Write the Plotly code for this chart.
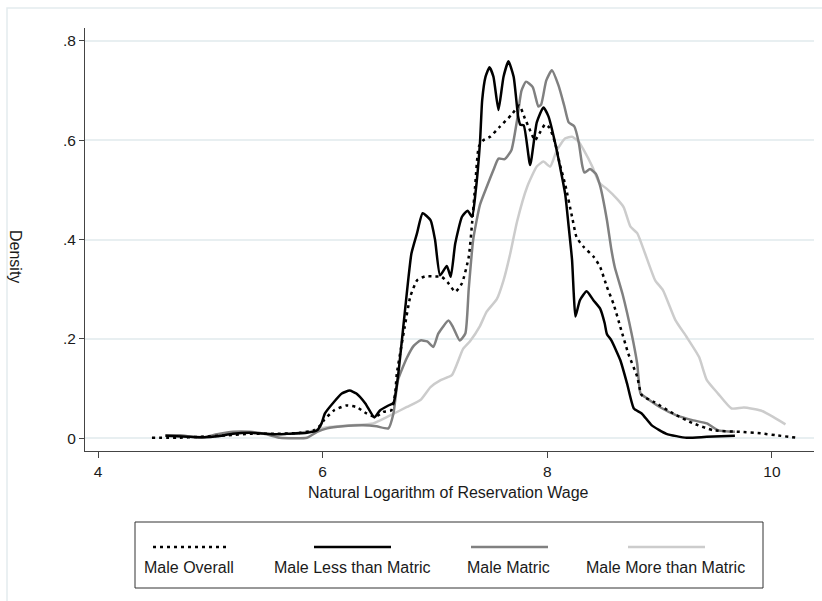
import plotly.graph_objects as go

# Kernel density estimates of log reservation wage, by education group (males)
overall_x = [4.48, 4.70, 4.91, 5.15, 5.35, 5.59, 5.80, 5.92, 5.98, 6.01, 6.10, 6.21, 6.30, 6.39,
             6.47, 6.54, 6.61, 6.645, 6.66, 6.73, 6.78, 6.84, 6.91, 6.985, 7.06, 7.12, 7.18, 7.24,
             7.30, 7.33, 7.357, 7.39, 7.43, 7.49, 7.58, 7.68, 7.75, 7.80, 7.85, 7.89, 7.94, 7.98,
             8.02, 8.07, 8.11, 8.16, 8.22, 8.26, 8.32, 8.41, 8.47, 8.53, 8.59, 8.65, 8.72, 8.80,
             8.84, 8.95, 9.12, 9.30, 9.48, 9.72, 9.90, 10.04, 10.22]
overall_y = [0.001, 0.001, 0.003, 0.006, 0.009, 0.009, 0.011, 0.016, 0.026, 0.036, 0.056, 0.066,
             0.063, 0.050, 0.043, 0.053, 0.056, 0.090, 0.130, 0.224, 0.285, 0.318, 0.326, 0.326,
             0.325, 0.312, 0.295, 0.312, 0.365, 0.433, 0.507, 0.587, 0.600, 0.607, 0.628, 0.651,
             0.670, 0.644, 0.618, 0.600, 0.618, 0.632, 0.625, 0.594, 0.553, 0.510, 0.446, 0.405,
             0.386, 0.366, 0.345, 0.305, 0.270, 0.224, 0.171, 0.124, 0.087, 0.073, 0.050, 0.030,
             0.016, 0.013, 0.010, 0.006, 0.001]

less_x = [4.60, 4.80, 4.95, 5.06, 5.20, 5.35, 5.56, 5.68, 5.86, 5.95, 5.99, 6.02, 6.10, 6.17,
          6.24, 6.30, 6.38, 6.46, 6.51, 6.585, 6.63, 6.67, 6.73, 6.79, 6.84, 6.89, 6.96, 7.00,
          7.045, 7.105, 7.14, 7.18, 7.24, 7.29, 7.33, 7.36, 7.40, 7.42, 7.45, 7.485, 7.52, 7.565,
          7.61, 7.654, 7.70, 7.74, 7.76, 7.79, 7.847, 7.906, 7.965, 8.01, 8.07, 8.13, 8.16, 8.19,
          8.22, 8.235, 8.25, 8.29, 8.35, 8.41, 8.47, 8.51, 8.53, 8.57, 8.65, 8.71, 8.77, 8.84,
          8.93, 9.06, 9.24, 9.42, 9.67]
less_y = [0.005, 0.003, 0.002, 0.004, 0.009, 0.011, 0.008, 0.009, 0.011, 0.016, 0.030, 0.050,
          0.073, 0.090, 0.096, 0.090, 0.070, 0.042, 0.056, 0.066, 0.071, 0.124, 0.251, 0.372,
          0.413, 0.453, 0.439, 0.400, 0.328, 0.347, 0.325, 0.392, 0.446, 0.458, 0.446, 0.493,
          0.594, 0.681, 0.728, 0.747, 0.728, 0.661, 0.728, 0.759, 0.728, 0.648, 0.631, 0.630,
          0.550, 0.636, 0.666, 0.648, 0.594, 0.527, 0.490, 0.426, 0.359, 0.292, 0.245, 0.278,
          0.296, 0.278, 0.261, 0.232, 0.210, 0.197, 0.157, 0.110, 0.060, 0.050, 0.026, 0.009,
          0.001, 0.003, 0.005]

matric_x = [4.60, 4.73, 4.91, 5.06, 5.20, 5.35, 5.50, 5.62, 5.86, 5.95, 6.04, 6.18, 6.36, 6.48,
            6.585, 6.63, 6.67, 6.75, 6.81, 6.87, 6.93, 6.985, 7.03, 7.12, 7.16, 7.22, 7.27, 7.30,
            7.34, 7.40, 7.46, 7.52, 7.565, 7.62, 7.68, 7.73, 7.77, 7.81, 7.87, 7.92, 7.945, 7.99,
            8.04, 8.10, 8.15, 8.19, 8.24, 8.28, 8.31, 8.33, 8.38, 8.43, 8.47, 8.53, 8.57, 8.60,
            8.67, 8.75, 8.80, 8.83, 8.87, 9.00, 9.15, 9.30, 9.42, 9.52, 9.67]
matric_y = [0.006, 0.006, 0.001, 0.008, 0.013, 0.013, 0.008, 0.001, 0.001, 0.013, 0.020, 0.024,
            0.026, 0.024, 0.020, 0.050, 0.117, 0.162, 0.186, 0.197, 0.195, 0.184, 0.211, 0.237,
            0.224, 0.197, 0.211, 0.300, 0.400, 0.470, 0.506, 0.540, 0.563, 0.562, 0.580, 0.640,
            0.700, 0.718, 0.707, 0.668, 0.672, 0.720, 0.741, 0.710, 0.670, 0.636, 0.628, 0.595,
            0.550, 0.535, 0.542, 0.533, 0.508, 0.440, 0.380, 0.345, 0.290, 0.211, 0.150, 0.090,
            0.083, 0.063, 0.046, 0.036, 0.030, 0.016, 0.013]

more_x = [5.72, 5.86, 6.04, 6.24, 6.45, 6.60, 6.75, 6.87, 6.96, 7.05, 7.15, 7.25, 7.31, 7.40,
          7.46, 7.55, 7.61, 7.67, 7.73, 7.82, 7.906, 7.965, 8.025, 8.085, 8.16, 8.22, 8.28, 8.32,
          8.40, 8.46, 8.53, 8.62, 8.68, 8.74, 8.80, 8.87, 8.96, 9.03, 9.14, 9.24, 9.35, 9.42,
          9.52, 9.64, 9.75, 9.90, 10.01, 10.12]
more_y = [0.009, 0.013, 0.022, 0.026, 0.030, 0.046, 0.063, 0.077, 0.103, 0.117, 0.127, 0.180,
          0.195, 0.226, 0.255, 0.280, 0.318, 0.372, 0.436, 0.506, 0.547, 0.557, 0.547, 0.580,
          0.604, 0.607, 0.597, 0.582, 0.547, 0.515, 0.502, 0.482, 0.465, 0.426, 0.413, 0.372,
          0.318, 0.298, 0.238, 0.204, 0.164, 0.117, 0.090, 0.060, 0.062, 0.056, 0.043, 0.028]

series_names = ["Male Overall", "Male Less than Matric", "Male Matric", "Male More than Matric"]
x_ticks = [4, 6, 8, 10]
y_ticks = [0, 0.2, 0.4, 0.6, 0.8]
y_tick_labels = ["0", ".2", ".4", ".6", ".8"]

# page geometry (pixels) of the plotting area
W, H = 822, 601
PL, PR, PT, PB = 85, 814, 28, 451
FONT = "Liberation Sans, Arial, sans-serif"
TXT = "#1a1a1a"
TEXT_SIZE = 16
TICK_SIZE = 15.5


def px(x):
    return (x - PL) / (PR - PL)


def py(y):
    return (PB - y) / (PB - PT)


styles = [
    dict(color="#000000", width=2.5, dash="3px,4px"),
    dict(color="#000000", width=2.5),
    dict(color="#808080", width=2.5),
    dict(color="#cccccc", width=2.5),
]
data = [(overall_x, overall_y), (less_x, less_y), (matric_x, matric_y), (more_x, more_y)]

fig = go.Figure()
# draw lightest first so darker curves sit on top
for i in [3, 2, 0, 1]:
    xs, ys = data[i]
    fig.add_trace(go.Scatter(x=xs, y=ys, mode="lines", name=series_names[i],
                             line=dict(shape="spline", smoothing=0.5, **styles[i]),
                             showlegend=False))

shapes = []
annotations = []

# outer graph-region frame
shapes.append(dict(type="rect", xref="paper", yref="paper",
                   x0=px(7), x1=px(840), y0=py(620), y1=py(8),
                   line=dict(color="#e4ebee", width=1.5), layer="below"))

# legend box
shapes.append(dict(type="rect", xref="paper", yref="paper",
                   x0=px(135), x1=px(763), y0=py(588), y1=py(522),
                   line=dict(color="#333333", width=1), fillcolor="rgba(0,0,0,0)"))
key_spans = [(153, 227), (314, 391), (471, 548), (628, 705)]
label_centres = [189, 352, 508, 665]
for i, (a, b) in enumerate(key_spans):
    shapes.append(dict(type="line", xref="paper", yref="paper",
                       x0=px(a), x1=px(b), y0=py(547), y1=py(547),
                       line=styles[i]))
    annotations.append(dict(text=series_names[i], xref="paper", yref="paper",
                            x=px(label_centres[i]), y=py(567), xanchor="center",
                            yanchor="middle", showarrow=False,
                            font=dict(family=FONT, size=TEXT_SIZE, color=TXT)))

# axis titles
annotations.append(dict(text="Natural Logarithm of Reservation Wage", xref="paper", yref="paper",
                        x=px(448), y=py(493), xanchor="center", yanchor="middle",
                        showarrow=False, font=dict(family=FONT, size=TEXT_SIZE, color=TXT)))
annotations.append(dict(text="Density", xref="paper", yref="paper",
                        x=px(16), y=py(256), xanchor="center", yanchor="middle",
                        textangle=90, showarrow=False,
                        font=dict(family=FONT, size=TEXT_SIZE, color=TXT)))

fig.update_layout(
    width=W, height=H,
    margin=dict(l=PL, r=W - PR, t=PT, b=H - PB, pad=0),
    paper_bgcolor="white", plot_bgcolor="white",
    shapes=shapes, annotations=annotations,
    font=dict(family=FONT, size=TICK_SIZE, color=TXT),
    xaxis=dict(range=[3.884, 10.374], tickvals=x_ticks, ticks="outside", ticklen=6,
               tickwidth=1, tickcolor="#444444", showgrid=False, zeroline=False,
               showline=True, linecolor="#444444", linewidth=1,
               tickfont=dict(family=FONT, size=TICK_SIZE, color=TXT)),
    yaxis=dict(range=[-0.0256, 0.826], tickvals=y_ticks, ticktext=y_tick_labels,
               ticks="outside", ticklen=5, tickwidth=1, tickcolor="#444444",
               showgrid=True, gridcolor="#e8eff1", gridwidth=1.5, zeroline=False,
               showline=True, linecolor="#444444", linewidth=1,
               tickfont=dict(family=FONT, size=TICK_SIZE, color=TXT)),
)

fig.write_html("out.html")
